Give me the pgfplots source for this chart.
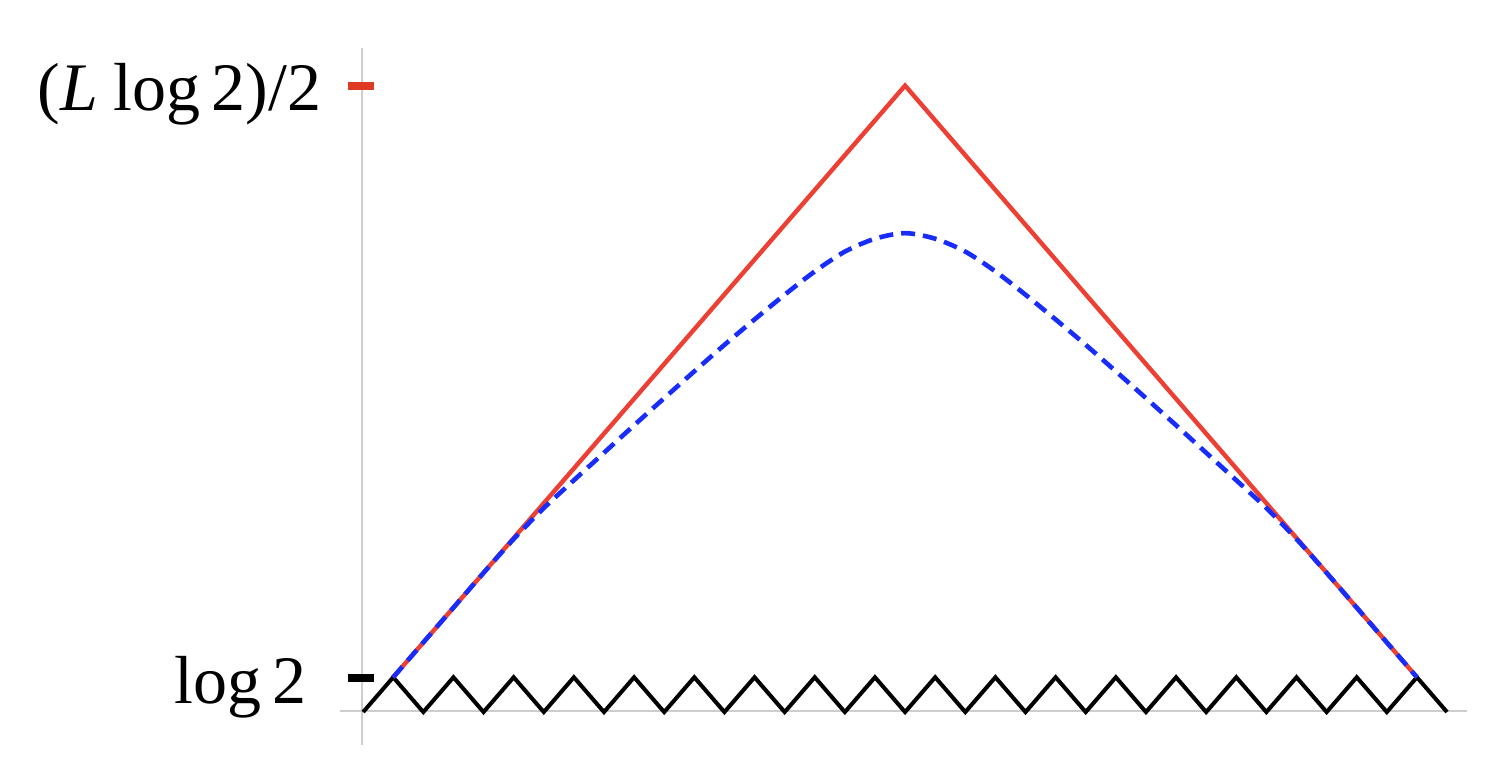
\documentclass[border=0pt]{standalone}
\usepackage{fontspec}
\setmainfont{Liberation Serif}
\usepackage{pgfplots}
\pgfplotsset{compat=1.18}
\definecolor{linered}{RGB}{236,64,52}
\definecolor{tickred}{RGB}{222,58,36}
\definecolor{dashblue}{RGB}{25,45,250}
\definecolor{axisgray}{RGB}{205,205,205}

\begin{document}
\begin{tikzpicture}
\begin{axis}[
  scale only axis, width=747pt, height=379pt,
  xmin=-12.06, xmax=37.56, ymin=-1.32, ymax=20.46,
  hide axis, clip=false]
% invisible frame so the page keeps the full extent
\addplot[draw=none] coordinates {(-12.06,-1.32) (37.56,20.46)};
% axis lines
\addplot[axisgray, line width=1pt] coordinates {(-0.76,0.03) (36.67,0.03)};
\addplot[axisgray, line width=1pt] coordinates {(-0.03,-0.95) (-0.03,19.08)};
% zigzag
\addplot[black, line width=2pt, line join=miter] coordinates {
  (0,0) (1,1) (2,0) (3,1) (4,0) (5,1) (6,0) (7,1) (8,0) (9,1) (10,0) (11,1)
  (12,0) (13,1) (14,0) (15,1) (16,0) (17,1) (18,0) (19,1) (20,0) (21,1) (22,0)
  (23,1) (24,0) (25,1) (26,0) (27,1) (28,0) (29,1) (30,0) (31,1) (32,0) (33,1)
  (34,0) (35,1) (36,0)};
% red upper bound
\addplot[linered, line width=2.2pt] coordinates {(1,1) (18,18) (35,1)};
% blue dashed curve
\addplot[dashblue, line width=2.3pt, smooth, dash pattern=on 7pt off 4pt] coordinates {
  (1,1) (2,2) (3,3) (4,4) (5,4.97) (6,5.86) (7,6.66) (8,7.45) (9,8.24) (10,9.02)
  (11,9.79) (12,10.55) (13,11.28) (14,11.99) (15,12.66) (16,13.23) (17,13.6)
  (18,13.76) (19,13.6) (20,13.23) (21,12.66) (22,11.99) (23,11.28) (24,10.55)
  (25,9.79) (26,9.02) (27,8.24) (28,7.45) (29,6.66) (30,5.86) (31,4.97) (32,4)
  (33,3) (34,2) (35,1)};
% tick marks
\addplot[tickred, line width=4pt] coordinates {(-0.5,18) (0.37,18)};
\addplot[black, line width=4pt] coordinates {(-0.5,0.99) (0.37,0.99)};
% tick labels
\node[anchor=base east, inner sep=0pt, font=\fontsize{34}{36}\selectfont]
  at (axis cs:-1.38,17.28) {(\textit{L}\hspace{0.22em}log\,2)/2};
\node[anchor=base east, inner sep=0pt, font=\fontsize{34}{36}\selectfont]
  at (axis cs:-1.85,0.26) {log\,2};
\end{axis}
\end{tikzpicture}
\end{document}
